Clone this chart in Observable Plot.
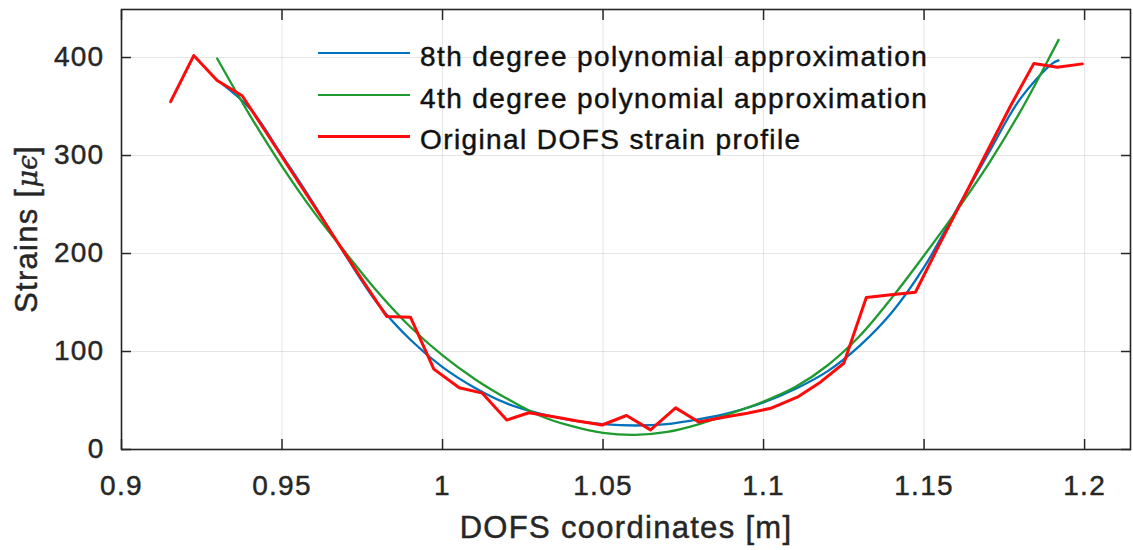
<!DOCTYPE html>
<html>
<head>
<meta charset="utf-8">
<script src="https://cdn.jsdelivr.net/npm/d3@7"></script>
<script src="https://cdn.jsdelivr.net/npm/@observablehq/plot@0.6"></script>
<style>
  html, body { margin: 0; padding: 0; background: #fff; }
  #wrap { position: relative; width: 1133px; height: 550px; font-family: "Liberation Sans", Arial, sans-serif; color: #262626; overflow: hidden; }
  #wrap svg text { letter-spacing: 1.3px; stroke: #262626; stroke-width: 0.45px; }
  .lbl { position: absolute; white-space: nowrap; line-height: 1; letter-spacing: 1.3px; -webkit-text-stroke: 0.45px #262626; }
  .leg { position: absolute; white-space: nowrap; line-height: 1; font-size: 28px; color: #111; letter-spacing: 1.4px; -webkit-text-stroke: 0.45px #111; }
  .legline { position: absolute; left: 318px; width: 92px; height: 0; }
  .greek { font-family: "DejaVu Serif", "Liberation Serif", serif; font-style: italic; font-size: 27px; letter-spacing: 0; }
</style>
</head>
<body>
<div id="wrap"></div>
<script>
// ---- data ----
const xTicks = [0.9, 0.95, 1, 1.05, 1.1, 1.15, 1.2];
const yTicks = [0, 100, 200, 300, 400];

// Original DOFS strain profile (red)
const redX = [0.9153, 0.9225, 0.9298, 0.9376, 0.945, 0.9523, 0.9597, 0.967, 0.9744, 0.9826,
              0.99, 0.9973, 1.0052, 1.0124, 1.02, 1.0269, 1.0342, 1.042, 1.0497, 1.0573,
              1.0648, 1.0726, 1.0798, 1.0876, 1.0949, 1.1022, 1.1105, 1.1177, 1.125, 1.132,
              1.1397, 1.1473, 1.1546, 1.162, 1.169, 1.177, 1.1842, 1.1915, 1.1993];
const redY = [355, 402, 376.5, 361, 324, 287, 250, 213, 176, 135.7,
              135, 82, 63, 57.5, 30, 37.5, 33.7, 29, 25, 34.7,
              20, 42.5, 28, 33, 37, 42, 53.4, 68.7, 88, 155,
              158, 160.5, 208, 255, 300, 351, 394, 390, 393.5];

// Polynomial approximations, sampled along the fitted range
const fitX = [0.9298, 0.94, 0.95, 0.96, 0.97, 0.98, 0.99, 1.0, 1.01, 1.02,
              1.03, 1.04, 1.05, 1.06, 1.07, 1.08, 1.09, 1.1, 1.11, 1.12,
              1.13, 1.14, 1.15, 1.16, 1.17, 1.18, 1.19, 1.1919];
const blueY = [377, 348, 300, 250, 197, 148, 112, 84, 63, 47,
               37, 30, 26, 24.5, 26, 31, 38, 48, 62, 80,
               106, 140, 186, 244, 302, 358, 394, 397];
const greenY = [399, 341, 289, 242, 200, 160, 125, 96, 72, 52,
                35, 24, 17, 15, 18, 26, 37, 49, 64, 86,
                116, 155, 198, 243, 291, 345, 406, 418];

const seriesNames = ["8th degree polynomial approximation", "4th degree polynomial approximation", "Original DOFS strain profile"];
const seriesColors = ["#0072BD", "#1f9a2e", "#ff0a0a"];

const xLabel = "DOFS coordinates [m]";
const yLabelText = "Strains ";
const yLabelUnit = "μϵ";

// ---- build ----
const red = redX.map((x, i) => ({x, y: redY[i]}));
const blue = fitX.map((x, i) => ({x, y: blueY[i]}));
const green = fitX.map((x, i) => ({x, y: greenY[i]}));

const axisColor = "#262626";
const plot = Plot.plot({
  width: 1133,
  height: 550,
  marginLeft: 121,
  marginRight: 3,
  marginTop: 9,
  marginBottom: 101,
  style: {fontFamily: "'Liberation Sans', Arial, sans-serif", fontSize: "28px", color: axisColor, background: "white", overflow: "visible"},
  x: {domain: [0.9, 1.2143]},
  y: {domain: [0, 449]},
  marks: [
    Plot.gridX(xTicks, {stroke: "#262626", strokeOpacity: 0.12, strokeWidth: 1}),
    Plot.gridY(yTicks, {stroke: "#262626", strokeOpacity: 0.12, strokeWidth: 1}),
    Plot.line(blue, {x: "x", y: "y", stroke: seriesColors[0], strokeWidth: 2.3, curve: "catmull-rom"}),
    Plot.line(green, {x: "x", y: "y", stroke: seriesColors[1], strokeWidth: 2.3, curve: "catmull-rom"}),
    Plot.line(red, {x: "x", y: "y", stroke: seriesColors[2], strokeWidth: 3, strokeLinejoin: "round"}),
    Plot.frame({stroke: axisColor, strokeWidth: 1.6}),
    Plot.axisX(xTicks, {anchor: "bottom", tickSize: -10, fill: "none", stroke: axisColor, strokeWidth: 1.5, label: null}),
    Plot.axisX(xTicks, {anchor: "top", tickSize: -10, fill: "none", stroke: axisColor, strokeWidth: 1.5, label: null}),
    Plot.axisY(yTicks, {anchor: "left", tickSize: -10, fill: "none", stroke: axisColor, strokeWidth: 1.5, label: null}),
    Plot.axisY(yTicks, {anchor: "right", tickSize: -10, fill: "none", stroke: axisColor, strokeWidth: 1.5, label: null}),
    Plot.axisX(xTicks, {anchor: "bottom", tickSize: 0, tickPadding: 26, tickFormat: d => String(d), label: null, fill: axisColor, fontSize: 28}),
    Plot.axisY(yTicks, {anchor: "left", tickSize: 0, tickPadding: 17, label: null, fill: axisColor, fontSize: 28})
  ]
});

const wrap = document.getElementById("wrap");
wrap.appendChild(plot);

// x axis title
const xl = document.createElement("div");
xl.className = "lbl";
xl.style.cssText = "left:626px; top:512px; font-size:31px; transform:translateX(-50%);";
xl.textContent = xLabel;
wrap.appendChild(xl);

// y axis title
const yl = document.createElement("div");
yl.className = "lbl";
yl.style.cssText = "left:26px; top:229px; font-size:31px; transform:translate(-50%,-50%) rotate(-90deg);";
yl.appendChild(document.createTextNode(yLabelText + "["));
const g = document.createElement("span");
g.className = "greek";
g.textContent = yLabelUnit;
yl.appendChild(g);
yl.appendChild(document.createTextNode("]"));
wrap.appendChild(yl);

// legend
const lineYs = [53.5, 95, 136.5];
const textTops = [43, 84.5, 126];
const widths = [2.3, 2.3, 3];
seriesNames.forEach((name, i) => {
  const ln = document.createElement("div");
  ln.className = "legline";
  ln.style.top = (lineYs[i] - widths[i] / 2) + "px";
  ln.style.borderTop = widths[i] + "px solid " + seriesColors[i];
  wrap.appendChild(ln);
  const t = document.createElement("div");
  t.className = "leg";
  t.style.left = "420px";
  t.style.top = textTops[i] + "px";
  t.textContent = name;
  wrap.appendChild(t);
});
</script>
</body>
</html>
